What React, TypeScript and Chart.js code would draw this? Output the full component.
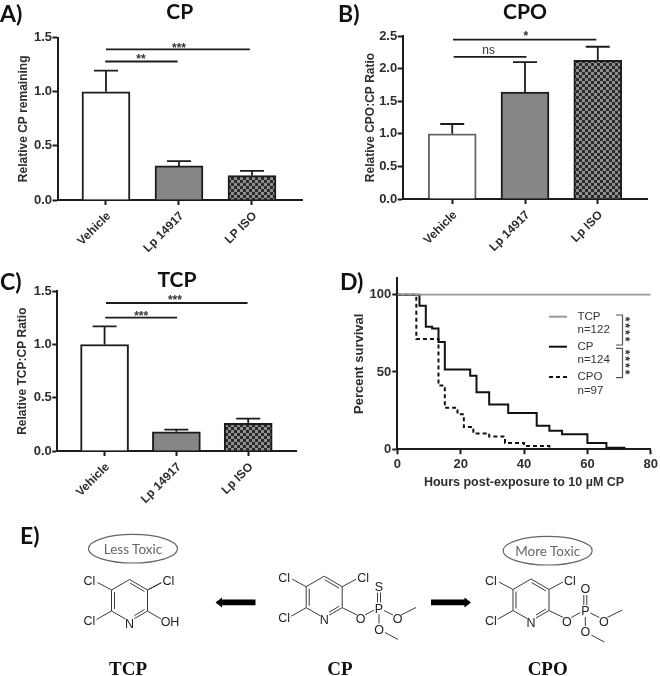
import React, { useEffect, useRef } from "react";
import { Chart, registerables } from "chart.js";

Chart.register(...registerables);

const barPositions = [0, 1, 2];
const labelsA = ["Vehicle", "Lp 14917", "LP ISO"];
const meanA = [1.0, 0.315, 0.225];
const upperA = [1.195, 0.36, 0.27];
const sigA = [
  { from: 0, to: 1.97, y: 1.393, text: "***", tx: 1, ty: 1.402 },
  { from: -0.01, to: 0.98, y: 1.28, text: "**", tx: 0.48, ty: 1.293 },
];

const labelsB = ["Vehicle", "Lp 14917", "Lp ISO"];
const meanB = [1.0, 1.64, 2.125];
const upperB = [1.15, 2.1, 2.335];
const sigB = [
  { from: 0.01, to: 1.98, y: 2.443, text: "*", tx: 1.01, ty: 2.495 },
  { from: 0.02, to: 1.02, y: 2.18, text: "ns", tx: 0.5, ty: 2.28 },
];

const labelsC = ["Vehicle", "Lp 14917", "Lp ISO"];
const meanC = [1.0, 0.18, 0.26];
const upperC = [1.17, 0.2, 0.305];
const sigC = [
  { from: 0.02, to: 1.99, y: 1.39, text: "***", tx: 0.98, ty: 1.408 },
  { from: 0.01, to: 1.01, y: 1.252, text: "***", tx: 0.51, ty: 1.261 },
];

const hoursTCP = [0, 80];
const survivalTCP = [100, 100];
const hoursCP = [0, 7, 9, 11, 13, 15, 23, 25, 29, 35, 44, 48, 52, 60, 66, 72];
const survivalCP = [100, 92.9, 79.3, 78.2, 69.4, 51.6, 47.5, 36.9, 28.9, 23.4, 15.3, 12, 9.7, 4, 1, 1];
const hoursCPO = [0, 6, 13, 15, 19, 21, 24, 29, 34, 40, 48];
const survivalCPO = [100, 71.3, 41.2, 26.8, 22.7, 14.4, 10.3, 8.2, 4.1, 2.1, 0];

const INK = "#1c1c1c";
const TEXT = "#2e2e2e";
const SANS = "'Liberation Sans', Arial, sans-serif";

function checker(): CanvasPattern {
  const c = document.createElement("canvas");
  c.width = 6;
  c.height = 6;
  const g = c.getContext("2d")!;
  g.fillStyle = "#8f8f8f";
  g.fillRect(0, 0, 6, 6);
  g.fillStyle = "#2a2a2a";
  g.fillRect(0, 0, 3, 3);
  g.fillRect(3, 3, 3, 3);
  return g.createPattern(c, "repeat")!;
}

const decorate = (upper: number[], sig: any[], capW: number) => ({
  id: "decorate",
  afterDatasetsDraw(chart: any) {
    const { ctx, scales } = chart;
    const { x, y } = scales;
    ctx.save();
    ctx.strokeStyle = INK;
    ctx.lineWidth = 1.8;
    upper.forEach((u, i) => {
      const px = x.getPixelForValue(barPositions[i]);
      const base = y.getPixelForValue(chart.data.datasets[0].data[i].y);
      const top = y.getPixelForValue(u);
      ctx.beginPath();
      ctx.moveTo(px, base);
      ctx.lineTo(px, top);
      ctx.moveTo(px - capW / 2, top);
      ctx.lineTo(px + capW / 2, top);
      ctx.stroke();
    });
    sig.forEach((s) => {
      const py = y.getPixelForValue(s.y);
      ctx.beginPath();
      ctx.moveTo(x.getPixelForValue(s.from), py);
      ctx.lineTo(x.getPixelForValue(s.to), py);
      ctx.stroke();
      ctx.fillStyle = "#333";
      ctx.font = s.text === "ns" ? `12px ${SANS}` : `bold 12px ${SANS}`;
      ctx.textAlign = "center";
      ctx.textBaseline = "middle";
      ctx.fillText(s.text, x.getPixelForValue(s.tx), y.getPixelForValue(s.ty));
    });
    ctx.restore();
  },
});

function barConfig(p: any) {
  const { labels, mean, upper, sig, title, yTitle, yMax, xMin, xMax, left, right, top, bottom, titlePadX, thick, cap, vehicleBorder } = p;
  return {
    type: "bar",
    data: {
      datasets: [
        {
          label: yTitle,
          data: barPositions.map((x, i) => ({ x, y: mean[i] })),
          backgroundColor: ["#ffffff", "#868686", checker()],
          borderColor: [vehicleBorder || INK, INK, INK],
          borderWidth: 2,
          barThickness: thick,
        },
      ],
    },
    plugins: [decorate(upper, sig, cap)],
    options: {
      animation: false,
      responsive: false,
      events: [],
      layout: { autoPadding: false, padding: { left: 0, right, top: 0, bottom: 0 } },
      plugins: {
        legend: { display: false },
        tooltip: { enabled: false },
        title: {
          display: true,
          text: title,
          fullSize: false,
          color: "#111",
          font: { family: "Lato", weight: "bold", size: 21, lineHeight: 1 },
          padding: { top: 1.5, bottom: top - 22.5 },
        },
      },
      scales: {
        x: {
          type: "linear",
          min: xMin,
          max: xMax,
          offset: false,
          afterBuildTicks: (s: any) => {
            s.ticks = barPositions.map((value) => ({ value }));
          },
          afterFit: (s: any) => {
            s.height = bottom;
          },
          grid: { offset: false, drawOnChartArea: false, drawTicks: true, tickLength: 5, tickWidth: 2, tickColor: INK },
          border: { color: INK, width: 2 },
          ticks: {
            autoSkip: false,
            minRotation: 45,
            maxRotation: 45,
            padding: 4,
            labelOffset: 3,
            color: TEXT,
            font: { family: SANS, weight: "bold", size: 12 },
            callback: (v: number) => labels[v],
          },
        },
        y: {
          min: 0,
          max: yMax,
          afterFit: (s: any) => {
            s.width = left;
          },
          grid: { drawOnChartArea: false, drawTicks: true, tickLength: 5, tickWidth: 2, tickColor: INK },
          border: { color: INK, width: 2 },
          ticks: {
            stepSize: 0.5,
            padding: 0.5,
            color: TEXT,
            font: { family: SANS, weight: "bold", size: 13 },
            callback: (v: number) => v.toFixed(1),
          },
          title: {
            display: true,
            text: yTitle,
            color: TEXT,
            padding: { top: titlePadX, bottom: 0 },
            font: { family: SANS, weight: "bold", size: 12 },
          },
        },
      },
    },
  };
}

const legendPlugin = {
  id: "survivalLegend",
  afterDatasetsDraw(chart: any) {
    const { ctx } = chart;
    // Canvas sits at (340,262)
    const ox = 340;
    const oy = 262;
    ctx.save();
    const rows = [
      { l: "TCP", n: "n=122", y: 316.7, ny: 329.5, color: "#999999", dash: [] as number[] },
      { l: "CP", n: "n=124", y: 346.7, ny: 359.7, color: "#111111", dash: [] as number[] },
      { l: "CPO", n: "n=97", y: 377, ny: 391, color: "#111111", dash: [4, 3] },
    ];
    ctx.font = `11.5px ${SANS}`;
    ctx.textBaseline = "middle";
    ctx.textAlign = "left";
    rows.forEach((r) => {
      ctx.beginPath();
      ctx.lineWidth = 2;
      ctx.strokeStyle = r.color;
      ctx.setLineDash(r.dash);
      ctx.moveTo(549 - ox, r.y - oy);
      ctx.lineTo(567 - ox, r.y - oy);
      ctx.stroke();
      ctx.setLineDash([]);
      ctx.fillStyle = "#333";
      ctx.fillText(r.l, 577.5 - ox, r.y - oy);
      ctx.fillText(r.n, 577.5 - ox, r.ny - oy);
    });
    ctx.strokeStyle = "#555";
    ctx.lineWidth = 1.2;
    [[315, 345], [348.3, 377.7]].forEach(([a, b]) => {
      ctx.beginPath();
      ctx.moveTo(616 - ox, a - oy);
      ctx.lineTo(622.5 - ox, a - oy);
      ctx.lineTo(622.5 - ox, b - oy);
      ctx.lineTo(616 - ox, b - oy);
      ctx.stroke();
    });
    ctx.fillStyle = "#333";
    ctx.font = `bold 12px ${SANS}`;
    ctx.textAlign = "center";
    (ctx as any).letterSpacing = "2px";
    [330, 363].forEach((cy) => {
      ctx.save();
      ctx.translate(624 - ox, cy - oy);
      ctx.rotate(Math.PI / 2);
      ctx.fillText("****", 0, 0);
      ctx.restore();
    });
    (ctx as any).letterSpacing = "0px";
    ctx.restore();
  },
};

const survivalConfig = {
  type: "line",
  data: {
    datasets: [
      {
        label: "TCP",
        data: hoursTCP.map((x, i) => ({ x, y: survivalTCP[i] })),
        borderColor: "#999999",
        borderWidth: 1.8,
        pointRadius: 0,
        stepped: true,
      },
      {
        label: "CPO",
        data: hoursCPO.map((x, i) => ({ x, y: survivalCPO[i] })),
        borderColor: "#111111",
        borderWidth: 2,
        borderDash: [4, 3],
        pointRadius: 0,
        stepped: true,
      },
      {
        label: "CP",
        data: hoursCP.map((x, i) => ({ x, y: survivalCP[i] })),
        borderColor: "#111111",
        borderWidth: 2,
        pointRadius: 0,
        stepped: true,
      },
    ],
  },
  plugins: [legendPlugin],
  options: {
    animation: false,
    responsive: false,
    events: [],
    layout: { autoPadding: false, padding: { left: 0, right: 6.7, top: 16.3, bottom: 0 } },
    plugins: { legend: { display: false }, tooltip: { enabled: false }, title: { display: false } },
    scales: {
      x: {
        type: "linear",
        min: 0,
        max: 80,
        afterFit: (s: any) => {
          s.height = 48.7;
        },
        grid: { drawOnChartArea: false, drawTicks: true, tickLength: 5, tickWidth: 2, tickColor: INK },
        border: { color: INK, width: 2 },
        ticks: {
          stepSize: 20,
          maxRotation: 0,
          padding: 2,
          color: TEXT,
          font: { family: SANS, weight: "bold", size: 13 },
        },
        title: {
          display: true,
          text: "Hours post-exposure to 10 µM CP",
          color: TEXT,
          padding: { top: 0, bottom: 7.8 },
          font: { family: SANS, weight: "bold", size: 12.5 },
        },
      },
      y: {
        min: 0,
        max: 110.6,
        afterBuildTicks: (s: any) => {
          s.ticks = [0, 50, 100].map((value) => ({ value }));
        },
        afterFit: (s: any) => {
          s.width = 57.3;
        },
        grid: { drawOnChartArea: false, drawTicks: true, tickLength: 5, tickWidth: 2, tickColor: INK },
        border: { color: INK, width: 2 },
        ticks: { padding: 1, color: TEXT, font: { family: SANS, weight: "bold", size: 13 } },
        title: {
          display: true,
          text: "Percent survival",
          color: TEXT,
          padding: { top: 12, bottom: 0 },
          font: { family: SANS, weight: "bold", size: 13 },
        },
      },
    },
  },
};

function ChartCanvas({ config, box }: { config: () => any; box: number[] }) {
  const ref = useRef<HTMLCanvasElement>(null);
  useEffect(() => {
    const chart = new Chart(ref.current!, config());
    return () => chart.destroy();
  }, []);
  return (
    <canvas
      ref={ref}
      width={box[2]}
      height={box[3]}
      style={{ position: "absolute", left: box[0], top: box[1], width: box[2], height: box[3] }}
    />
  );
}

function Bond({ a, b, color = "#3a3a3a", w = 1 }: { a: number[]; b: number[]; color?: string; w?: number }) {
  return <line x1={a[0]} y1={a[1]} x2={b[0]} y2={b[1]} stroke={color} strokeWidth={w} />;
}

function Atom({ x, y, t }: { x: number; y: number; t: string }) {
  return (
    <text x={x} y={y} fontFamily={SANS} fontSize={12.5} fill="#222" textAnchor="middle" dominantBaseline="central">
      {t}
    </text>
  );
}

// Pyridine ring with three chlorines, drawn relative to the ring centre
function Ring({ cx, cy }: { cx: number; cy: number }) {
  const v = [
    [0, -21],
    [18, -10.5],
    [18, 10.5],
    [0, 21],
    [-18, 10.5],
    [-18, -10.5],
  ].map(([x, y]) => [cx + x, cy + y]);
  const o = (x: number, y: number) => [cx + x, cy + y];
  return (
    <g>
      <Bond a={v[0]} b={v[1]} />
      <Bond a={v[1]} b={v[2]} />
      <Bond a={v[2]} b={o(5, 18)} />
      <Bond a={o(-4, 18.5)} b={v[4]} />
      <Bond a={v[4]} b={v[5]} />
      <Bond a={v[5]} b={v[0]} />
      <Bond a={o(0.5, -17.5)} b={o(15, -9)} />
      <Bond a={o(15, 9)} b={o(5, 15)} />
      <Bond a={o(-15, -8.5)} b={o(-15, 8.5)} />
      <Bond a={v[5]} b={o(-32, -18)} />
      <Bond a={v[1]} b={o(32, -18)} />
      <Bond a={v[4]} b={o(-33, 19)} />
      <Atom x={cx} y={cy + 23} t="N" />
      <Atom x={cx - 40} y={cy - 19.5} t="Cl" />
      <Atom x={cx + 39} y={cy - 19.5} t="Cl" />
      <Atom x={cx - 40} y={cy + 20.5} t="Cl" />
    </g>
  );
}

// Phosphate ester tail; (px, py) is the phosphorus atom
function Tail({ px, py, top, cx, cy }: { px: number; py: number; top: string; cx: number; cy: number }) {
  const o = (x: number, y: number) => [px + x, py + y];
  return (
    <g>
      <Bond a={[cx + 18, cy + 10.5]} b={o(-22, 6.5)} />
      <Bond a={o(-14, 6.5)} b={o(-5, 1.5)} />
      <Bond a={o(5, 2)} b={o(14, 6.5)} />
      <Bond a={o(22, 6.5)} b={o(37, -1)} />
      <Bond a={o(0, 6)} b={o(0, 15)} />
      <Bond a={o(6, 24)} b={o(19, 31)} />
      <Bond a={o(-1.5, -6)} b={o(-1.5, -16)} />
      <Bond a={o(1.5, -6)} b={o(1.5, -16)} />
      <Atom x={px} y={py} t="P" />
      <Atom x={px} y={py - 22} t={top} />
      <Atom x={px - 18.5} y={py + 10.5} t="O" />
      <Atom x={px + 18.5} y={py + 10.5} t="O" />
      <Atom x={px} y={py + 21} t="O" />
    </g>
  );
}

function Oval({ cx, cy, t }: { cx: number; cy: number; t: string }) {
  return (
    <g>
      <ellipse cx={cx} cy={cy} rx={44.5} ry={14.3} fill="none" stroke="#666" strokeWidth={1.2} />
      <text x={cx} y={cy} fontFamily="Lato" fontSize={13.5} fill="#666" textAnchor="middle" dominantBaseline="central">
        {t}
      </text>
    </g>
  );
}

const Name = ({ x, t }: { x: number; t: string }) => (
  <text x={x} y={668.5} fontFamily="'Liberation Serif', serif" fontWeight="bold" fontSize={19} fill="#111" textAnchor="middle" dominantBaseline="central">
    {t}
  </text>
);

const Tag = ({ x, y, t }: { x: number; y: number; t: string }) => (
  <text x={x} y={y} fontFamily="Lato" fontWeight="bold" fontSize={23} fill="#111" dominantBaseline="central">
    {t}
  </text>
);

function Overlay() {
  return (
    <svg width={660} height={676} style={{ position: "absolute", left: 0, top: 0, pointerEvents: "none" }}>
      <Tag x={0} y={13} t="A)" />
      <Tag x={338} y={13} t="B)" />
      <Tag x={0} y={281} t="C)" />
      <Tag x={340} y={281} t="D)" />
      <Tag x={20} y={535} t="E)" />

      <Oval cx={133} cy={548.7} t="Less Toxic" />
      <Oval cx={547.7} cy={550.7} t="More Toxic" />

      <Ring cx={129.5} cy={600.5} />
      <Bond a={[147.5, 590]} b={[161, 583]} />
      <Bond a={[147.5, 611]} b={[161, 619]} />
      <Atom x={170} y={621.5} t="OH" />

      <Ring cx={324.2} cy={597.2} />
      <Tail px={379} py={608.5} top="S" cx={324.2} cy={597.2} />

      <Ring cx={531} cy={600} />
      <Tail px={585.3} py={611} top="O" cx={531} cy={600} />

      <polygon points="255.5,599.5 222,599.5 222,597.5 215.5,602.5 222,607.5 222,605.3 255.5,605.3" fill="#000" />
      <polygon points="431,599.5 464.5,599.5 464.5,597.5 471,602.5 464.5,607.5 464.5,605.3 431,605.3" fill="#000" />

      <Name x={128} t="TCP" />
      <Name x={340} t="CP" />
      <Name x={547.7} t="CPO" />
    </svg>
  );
}

export default function App() {
  return (
    <div style={{ position: "absolute", left: 0, top: 0, width: 660, height: 676, overflow: "hidden", background: "#fff" }}>
      <ChartCanvas
        box={[0, 0, 330, 262]}
        config={() =>
          barConfig({ labels: labelsA, mean: meanA, upper: upperA, sig: sigA, title: "CP", yTitle: "Relative CP remaining", yMax: 1.5, xMin: -0.664, xMax: 2.685, left: 57.5, right: 28, top: 37.7, bottom: 62, titlePadX: 16.5, thick: 48, cap: 24 })
        }
      />
      <ChartCanvas
        box={[330, 0, 330, 262]}
        config={() =>
          barConfig({ labels: labelsB, mean: meanB, upper: upperB, sig: sigB, title: "CPO", yTitle: "Relative CPO:CP Ratio", yMax: 2.5, xMin: -0.68, xMax: 2.68, left: 72.7, right: 12.7, top: 36, bottom: 63, titlePadX: 33.8, thick: 48, cap: 24, vehicleBorder: "#666" })
        }
      />
      <ChartCanvas
        box={[0, 268, 330, 252]}
        config={() =>
          barConfig({ labels: labelsC, mean: meanC, upper: upperC, sig: sigC, title: "TCP", yTitle: "Relative TCP:CP Ratio", yMax: 1.5, xMin: -0.658, xMax: 2.675, left: 57.3, right: 33.3, top: 23.3, bottom: 69, titlePadX: 15.8, thick: 48, cap: 24 })
        }
      />
      <ChartCanvas box={[340, 262, 320, 236]} config={() => survivalConfig} />
      <Overlay />
    </div>
  );
}
